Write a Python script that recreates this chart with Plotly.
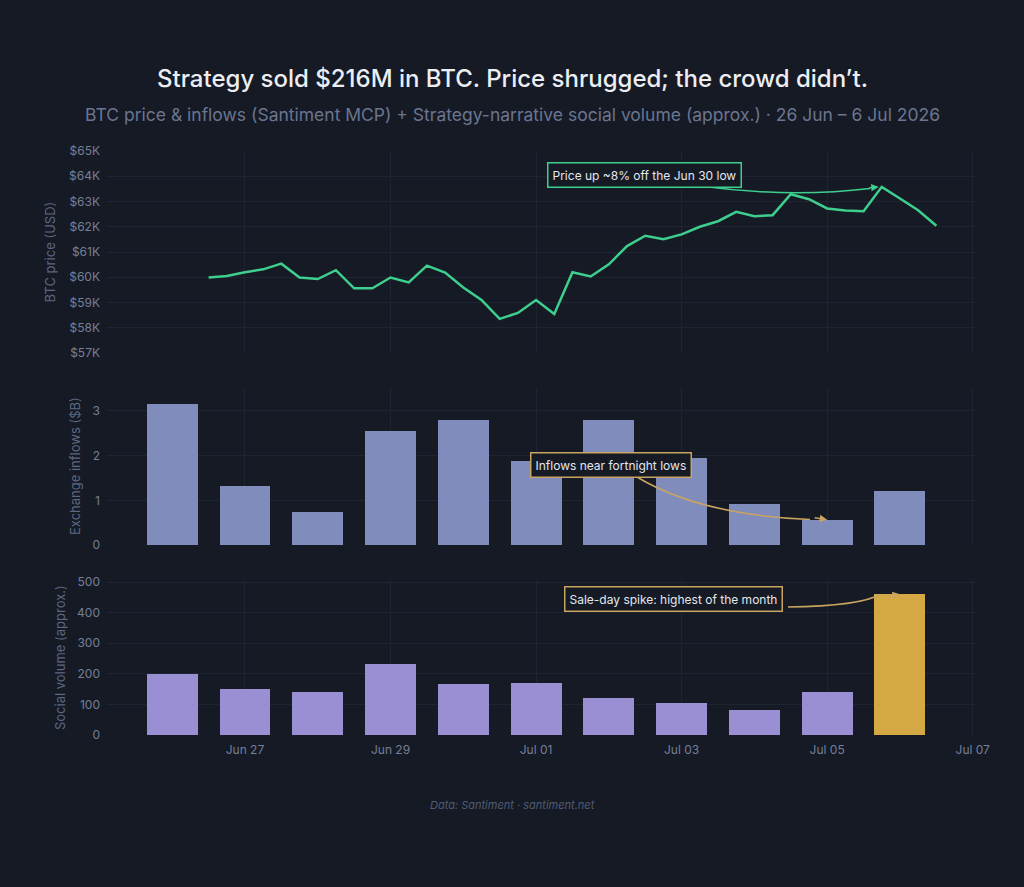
import plotly.graph_objects as go
import pandas as pd

# ---------------- data ----------------
days = ["2026-06-26", "2026-06-27", "2026-06-28", "2026-06-29", "2026-06-30",
        "2026-07-01", "2026-07-02", "2026-07-03", "2026-07-04", "2026-07-05",
        "2026-07-06"]
inflows_b = [3.15, 1.32, 0.75, 2.55, 2.80, 1.89, 2.80, 1.95, 0.92, 0.57, 1.21]
social_volume = [200, 150, 140, 230, 165, 170, 120, 105, 80, 140, 460]

price_times = pd.date_range("2026-06-26 12:00", "2026-07-06 12:00", freq="6h")
btc_price = [59990, 60050, 60200, 60315, 60540, 59990, 59930, 60280, 59565, 59565,
             59990, 59800, 60460, 60185, 59595, 59105, 58355, 58590, 59100, 58545,
             60200, 60030, 60515, 61235, 61645, 61510, 61700, 62000, 62220, 62590,
             62420, 62460, 63290, 63090, 62725, 62645, 62615, 63580, 63120, 62655,
             62040]

price_ticks = [57000, 58000, 59000, 60000, 61000, 62000, 63000, 64000, 65000]
price_tick_labels = ["$57K", "$58K", "$59K", "$60K", "$61K", "$62K", "$63K", "$64K", "$65K"]
inflow_ticks = [0, 1, 2, 3]
social_ticks = [0, 100, 200, 300, 400, 500]

title = "Strategy sold $216M in BTC. Price shrugged; the crowd didn\u2019t."
subtitle = ("BTC price & inflows (Santiment MCP) + Strategy-narrative social volume "
            "(approx.) \u00b7 26 Jun \u2013 6 Jul 2026")
footer = "Data: Santiment \u00b7 santiment.net"

# ---------------- style ----------------
BG = "#151a25"
GRID = "#1e2431"
TICK = "#767f98"
AXT = "#5e6780"
GREEN = "#3ecf8e"
BLUE = "#808dbc"
LAV = "#9b8fd4"
GOLD = "#d4a843"
GOLD_LINE = "#c9a460"
FONT = "Inter"

W, H = 1024, 887
ML, MR, MT, MB = 107, 49, 151, 152
PW, PH = W - ML - MR, H - MT - MB


def px(x, y):
    """pixel -> paper coordinates"""
    return (x - ML) / PW, (MT + PH - y) / PH


bar_width_ms = 0.70 * 86400000
social_colors = [LAV] * (len(days) - 1) + [GOLD]

fig = go.Figure()
fig.add_trace(go.Scatter(x=price_times, y=btc_price, mode="lines",
                         line=dict(color=GREEN, width=2.5), xaxis="x", yaxis="y",
                         showlegend=False, hoverinfo="skip"))
fig.add_trace(go.Bar(x=days, y=inflows_b, marker=dict(color=BLUE, line=dict(width=0)),
                     width=bar_width_ms, xaxis="x2", yaxis="y2", showlegend=False))
fig.add_trace(go.Bar(x=days, y=social_volume,
                     marker=dict(color=social_colors, line=dict(width=0)),
                     width=bar_width_ms, xaxis="x3", yaxis="y3", showlegend=False))

xrange = ["2026-06-25 02:30", "2026-07-07 00:45"]
xcommon = dict(type="date", range=xrange, showgrid=True, gridcolor=GRID, gridwidth=1,
               zeroline=False, showline=False, tick0="2026-06-27", dtick=2 * 86400000,
               tickformat="%b %d", tickfont=dict(color=TICK, size=12, family=FONT))
ycommon = dict(showgrid=True, gridcolor=GRID, gridwidth=1, zeroline=False, showline=False,
               tickfont=dict(color=TICK, size=12, family=FONT), ticklabelstandoff=6)

fig.update_layout(
    width=W, height=H,
    margin=dict(l=ML, r=MR, t=MT, b=MB),
    paper_bgcolor=BG, plot_bgcolor=BG,
    font=dict(family=FONT, color=TICK),
    bargap=0,
    xaxis=dict(xcommon, anchor="y", showticklabels=False),
    xaxis2=dict(xcommon, anchor="y2", matches="x", showticklabels=False),
    xaxis3=dict(xcommon, anchor="y3", matches="x", showticklabels=True, ticklabelstandoff=6),
    yaxis=dict(ycommon, domain=[0.654, 1.0], range=[57000, 65000],
               tickvals=price_ticks, ticktext=price_tick_labels,
               title=dict(text="BTC price (USD)", font=dict(color=AXT, size=13, family=FONT),
                          standoff=10)),
    yaxis2=dict(ycommon, domain=[0.325, 0.596], range=[0, 3.53], tickvals=inflow_ticks,
                title=dict(text="Exchange inflows ($B)", font=dict(color=AXT, size=13, family=FONT),
                           standoff=8)),
    yaxis3=dict(ycommon, domain=[0.0, 0.265], range=[0, 506], tickvals=social_ticks,
                title=dict(text="Social volume (approx.)", font=dict(color=AXT, size=13, family=FONT),
                           standoff=8)),
)

annotations = []
# title / subtitle / footer
_, ty = px(512, 79)
annotations.append(dict(text=title, x=(512 - ML) / PW, y=ty, xref="paper", yref="paper",
                        xanchor="center", yanchor="middle", showarrow=False,
                        font=dict(size=24, color="#eceef3", family=FONT, weight=500)))
_, sy = px(512, 114)
annotations.append(dict(text=subtitle, x=(512 - ML) / PW, y=sy, xref="paper", yref="paper",
                        xanchor="center", yanchor="middle", showarrow=False,
                        font=dict(size=17.5, color="#6b7591", family=FONT)))
_, fy = px(512, 805)
annotations.append(dict(text="<i>" + footer + "</i>", x=(512 - ML) / PW, y=fy, xref="paper",
                        yref="paper", xanchor="center", yanchor="middle", showarrow=False,
                        font=dict(size=11, color="#515a72", family=FONT)))

# callout boxes
def box(text, cx, cy, color):
    x, y = px(cx, cy)
    return dict(text=text, x=x, y=y, xref="paper", yref="paper", xanchor="center",
                yanchor="middle", showarrow=False, bgcolor=BG, bordercolor=color,
                borderwidth=1.5, borderpad=4, font=dict(size=12, color="#e4e7ee", family=FONT))


annotations.append(box("Price up ~8% off the Jun 30 low", 644, 175, GREEN))
annotations.append(box("Inflows near fortnight lows", 611, 465, GOLD_LINE))
annotations.append(box("Sale-day spike: highest of the month", 673, 599, GOLD_LINE))

# arrow heads pointing at data
peak_i = btc_price.index(max(btc_price))
annotations.append(dict(x=price_times[peak_i], y=btc_price[peak_i], xref="x", yref="y",
                        ax=-14, ay=1, text="", showarrow=True,
                        arrowhead=2, arrowsize=1, arrowwidth=1.5, arrowcolor=GREEN, standoff=3))
annotations.append(dict(x=days[9], y=inflows_b[9], xref="x2", yref="y2",
                        ax=-14, ay=-2, text="", showarrow=True,
                        arrowhead=2, arrowsize=1, arrowwidth=1.5, arrowcolor=GOLD_LINE, standoff=0))
annotations.append(dict(x=days[10], y=social_volume[10], xref="x3", yref="y3",
                        ax=-14, ay=2, text="", showarrow=True,
                        arrowhead=2, arrowsize=1, arrowwidth=1.5, arrowcolor=GOLD_LINE, standoff=0))
fig.update_layout(annotations=annotations)


def curve(p0, c, p1, color):
    a, b, d = px(*p0), px(*c), px(*p1)
    path = f"M {a[0]},{a[1]} Q {b[0]},{b[1]} {d[0]},{d[1]}"
    return dict(type="path", path=path, xref="paper", yref="paper",
                line=dict(color=color, width=1.5), layer="above")


fig.update_layout(shapes=[
    curve((700, 186), (790, 198), (870, 188.5), GREEN),
    curve((637, 477), (700, 515), (810, 519.5), GOLD_LINE),
    curve((788, 607), (860, 606), (880, 594.5), GOLD_LINE),
])

fig.write_html("out.html")
